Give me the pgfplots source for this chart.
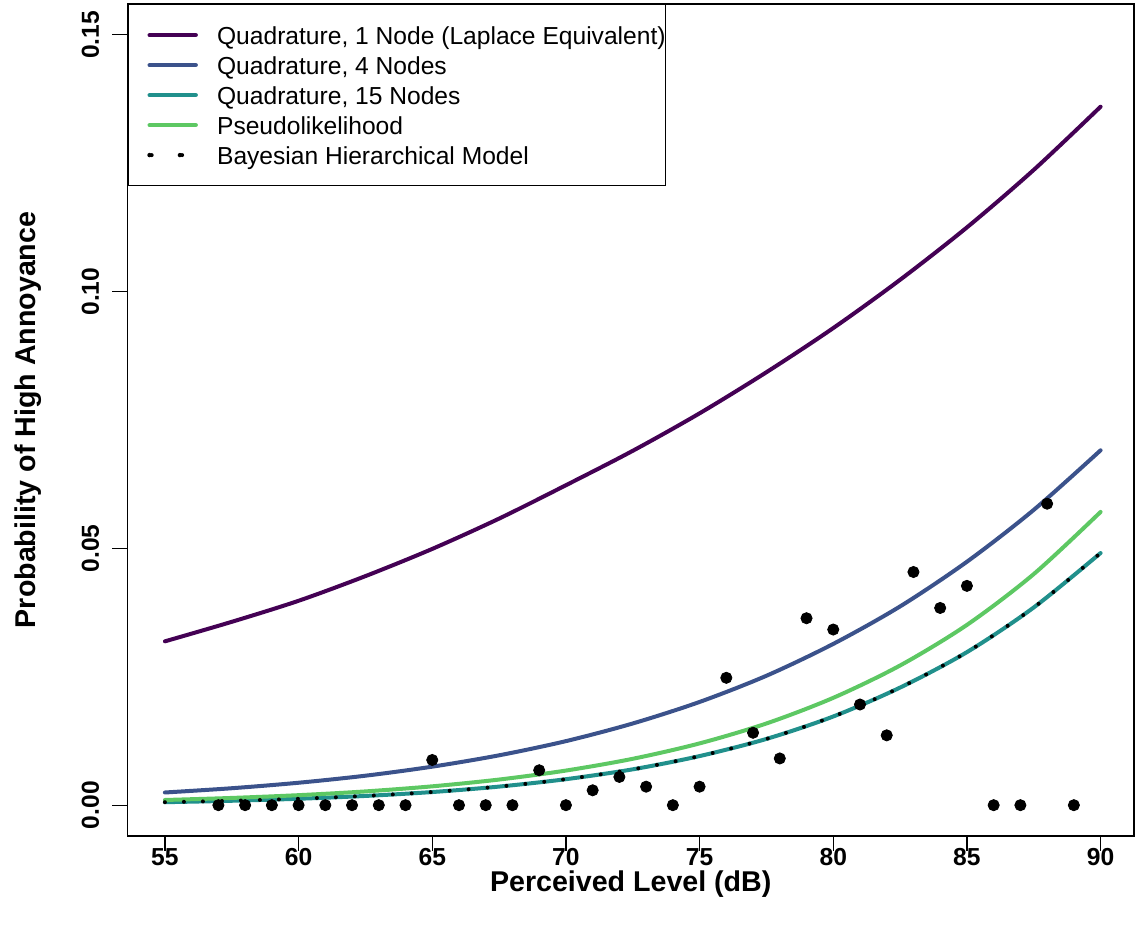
\documentclass[border=0pt]{standalone}
\usepackage{fontspec}
\setmainfont{Liberation Sans}
\usepackage{pgfplots}
\pgfplotsset{compat=1.18}
\usetikzlibrary{calc}

\definecolor{vir1}{HTML}{440154}
\definecolor{vir2}{HTML}{3B528B}
\definecolor{vir3}{HTML}{21908C}
\definecolor{vir4}{HTML}{5DC863}

\begin{document}
\begin{tikzpicture}
\begin{axis}[
    scale only axis,
    width=503.25pt, height=416pt,
    xmin=53.6, xmax=91.25,
    ymin=-0.006, ymax=0.156,
    axis line style={line width=0.6pt},
    every tick/.style={line width=0.6pt, black},
    tick align=outside,
    major tick length=7.5pt,
    xtick pos=bottom, ytick pos=left,
    xtick={55,60,...,90},
    ytick={0,0.05,0.10,0.15},
    scaled y ticks=false,
    /pgf/number format/assume math mode=true,
    tick label style={font=\fontsize{12.3}{14}\selectfont\bfseries},
    yticklabel={\pgfmathprintnumber[fixed,fixed zerofill,precision=2]{\tick}},
    xticklabel style={anchor=center, yshift=-3pt},
    yticklabel style={xshift=-11pt, rotate=90, anchor=center},
    every axis x label/.style={at={(axis description cs:0.5,0)}, yshift=-24pt, anchor=center},
    every axis y label/.style={at={(axis description cs:0,0.5)}, xshift=-49.75pt, rotate=90, anchor=center},
    label style={font=\fontsize{14.3}{16}\selectfont\bfseries},
    xlabel={Perceived Level (dB)},
    ylabel={Probability of High Annoyance},
    legend cell align=left,
    legend style={at={(0,1)}, anchor=north west, draw=black, line width=0.6pt,
        fill=white, inner xsep=0pt, inner ysep=7.75pt, row sep=0pt,
        font=\fontsize{12.3}{14}\selectfont,
        nodes={inner sep=0pt, text height=12pt, text depth=3pt},
        /tikz/every even column/.append style={column sep=0pt}},
    legend image code/.code={
        \path[draw=none, fill=none] (0pt,0pt) -- (44.5pt,0pt);
        \draw[#1, line cap=round, line width=2.2pt] (10.8pt,0pt) -- (33.8pt,0pt);},
]
\addplot[vir1, line width=2pt, line cap=round, smooth] coordinates {
 (55,0.0319) (57.5,0.0357) (60,0.0398) (62.5,0.0446) (65,0.0499) (67.5,0.0558)
 (70,0.0623) (72.5,0.0690) (75,0.0763) (77.5,0.0843) (80,0.0929) (82.5,0.1023)
 (85,0.1125) (87.5,0.1237) (90,0.1360)};
\addlegendentry{Quadrature, 1 Node (Laplace Equivalent)}
\addplot[vir2, line width=2pt, line cap=round, smooth] coordinates {
 (55,0.00247) (57.5,0.00330) (60,0.00437) (62.5,0.00574) (65,0.00750) (67.5,0.00971)
 (70,0.01247) (72.5,0.01591) (75,0.0201) (77.5,0.0252) (80,0.0314) (82.5,0.0387)
 (85,0.0474) (87.5,0.0575) (90,0.0691)};
\addlegendentry{Quadrature, 4 Nodes}
\addplot[vir3, line width=2pt, line cap=round, smooth] coordinates {
 (55,0.00058) (57.5,0.00086) (60,0.00125) (62.5,0.00180) (65,0.00256) (67.5,0.00362)
 (70,0.00506) (72.5,0.00698) (75,0.00956) (77.5,0.0129) (80,0.01727) (82.5,0.0229)
 (85,0.0298) (87.5,0.0385) (90,0.0491)};
\addlegendentry{Quadrature, 15 Nodes}
\addplot[vir4, line width=2pt, line cap=round, smooth] coordinates {
 (55,0.00101) (57.5,0.00141) (60,0.00195) (62.5,0.00268) (65,0.00367) (67.5,0.00499)
 (70,0.00674) (72.5,0.00903) (75,0.01203) (77.5,0.01591) (80,0.0209) (82.5,0.0272)
 (85,0.0351) (87.5,0.0450) (90,0.0571)};
\addlegendentry{Pseudolikelihood}
\addplot[black, line width=2pt, line cap=round, dash pattern=on 0pt off 9.5pt, smooth,
    legend image code/.code={
        \path[draw=none, fill=none] (0pt,0pt) -- (44.5pt,0pt);
        \fill[black] (10.7pt,0pt) circle (1.1pt);
        \fill[black] (25.9pt,0pt) circle (1.1pt);}] coordinates {
 (55,0.00058) (57.5,0.00086) (60,0.00125) (62.5,0.00180) (65,0.00256) (67.5,0.00362)
 (70,0.00506) (72.5,0.00698) (75,0.00956) (77.5,0.0129) (80,0.01727) (82.5,0.0229)
 (85,0.0298) (87.5,0.0385) (90,0.0491)};
\addlegendentry{Bayesian Hierarchical Model}
\addplot[only marks, mark=*, mark size=2.8pt, black, forget plot] coordinates {
 (57,0) (58,0) (59,0) (60,0) (61,0) (62,0) (63,0) (64,0) (65,0.0088) (66,0)
 (67,0) (68,0) (69,0.0068) (70,0) (71,0.0029) (72,0.0055) (73,0.0036) (74,0)
 (75,0.0036) (76,0.0248) (77,0.0141) (78,0.0091) (79,0.0364) (80,0.0342)
 (81,0.0196) (82,0.0136) (83,0.0454) (84,0.0384) (85,0.0427) (86,0) (87,0)
 (88,0.0587) (89,0)};
\coordinate (SW) at (rel axis cs:0,0);
\coordinate (NE) at (rel axis cs:1,1);
\end{axis}
\pgfresetboundingbox
\path ($(SW)+(-63.75pt,-47pt)$) rectangle ($(NE)+(0.5pt,2pt)$);
\end{tikzpicture}
\end{document}
